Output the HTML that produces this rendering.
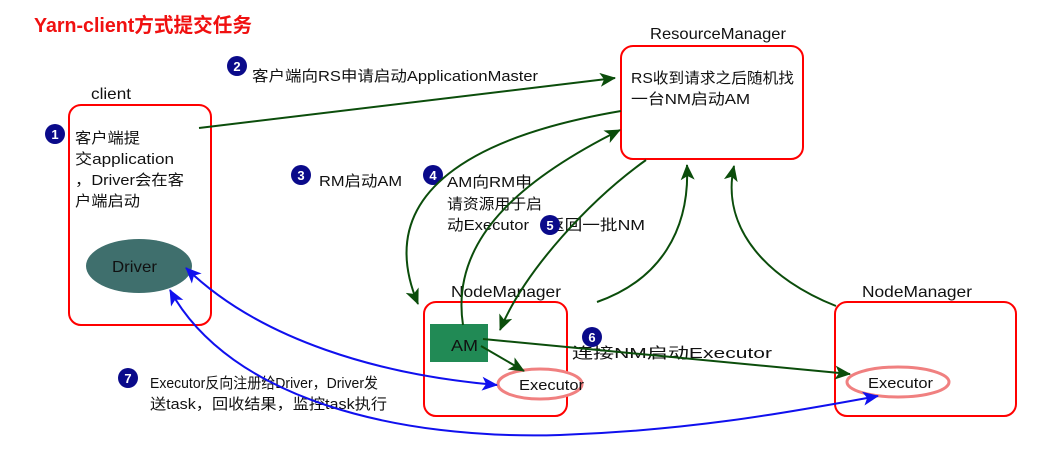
<!DOCTYPE html>
<html><head><meta charset="utf-8"><style>
html,body{margin:0;padding:0;background:#fff;}
svg{display:block;font-family:"Liberation Sans","Noto Sans CJK SC",sans-serif;}
</style></head><body>
<svg width="1043" height="453" viewBox="0 0 1043 453" xmlns="http://www.w3.org/2000/svg">
<defs>
<marker id="ga" markerWidth="16" markerHeight="16" refX="15" refY="8" orient="auto" markerUnits="userSpaceOnUse" viewBox="0 0 16 16"><path d="M0,1 L16,8 L0,15 L4,8 z" fill="#0b4d0b"/></marker>
<marker id="b" markerWidth="16" markerHeight="16" refX="15" refY="8" orient="auto-start-reverse" markerUnits="userSpaceOnUse" viewBox="0 0 16 16"><path d="M0,1 L16,8 L0,15 L4,8 z" fill="#1010ee"/></marker>
</defs>
<g lengthAdjust="spacingAndGlyphs">
<text x="34" y="32" font-size="20" font-weight="bold" fill="#f01010" textLength="218" lengthAdjust="spacingAndGlyphs">Yarn-client方式提交任务</text>

<text x="91" y="99" font-size="16" fill="#111" textLength="40" lengthAdjust="spacingAndGlyphs">client</text>
<rect x="69" y="105" width="142" height="220" rx="12" fill="none" stroke="#f00" stroke-width="2"/>
<circle cx="55" cy="134" r="10" fill="#0a0a8a"/><text x="55" y="139" font-size="13" font-weight="bold" fill="#fff" text-anchor="middle">1</text>
<g font-size="15" fill="#111">
<text x="75" y="143" textLength="65" lengthAdjust="spacingAndGlyphs">客户端提</text>
<text x="75" y="164" textLength="99" lengthAdjust="spacingAndGlyphs">交application</text>
<text x="75" y="185" textLength="109" lengthAdjust="spacingAndGlyphs">，Driver会在客</text>
<text x="75" y="206" textLength="65" lengthAdjust="spacingAndGlyphs">户端启动</text>
</g>
<ellipse cx="139" cy="266" rx="53" ry="27" fill="#3f6f6d"/>
<text x="112" y="272" font-size="16" fill="#111" textLength="45" lengthAdjust="spacingAndGlyphs">Driver</text>

<text x="650" y="39" font-size="16" fill="#111" textLength="136" lengthAdjust="spacingAndGlyphs">ResourceManager</text>
<rect x="621" y="46" width="182" height="113" rx="12" fill="none" stroke="#f00" stroke-width="2"/>
<text x="631" y="83" font-size="15" fill="#111" textLength="163" lengthAdjust="spacingAndGlyphs">RS收到请求之后随机找</text>
<text x="631" y="104" font-size="15" fill="#111" textLength="119" lengthAdjust="spacingAndGlyphs">一台NM启动AM</text>

<circle cx="237" cy="66" r="10" fill="#0a0a8a"/><text x="237" y="71" font-size="13" font-weight="bold" fill="#fff" text-anchor="middle">2</text>
<text x="252" y="81" font-size="15" fill="#111" textLength="286" lengthAdjust="spacingAndGlyphs">客户端向RS申请启动ApplicationMaster</text>
<circle cx="301" cy="175" r="10" fill="#0a0a8a"/><text x="301" y="180" font-size="13" font-weight="bold" fill="#fff" text-anchor="middle">3</text>
<text x="319" y="186" font-size="15" fill="#111" textLength="83" lengthAdjust="spacingAndGlyphs">RM启动AM</text>
<circle cx="433" cy="175" r="10" fill="#0a0a8a"/><text x="433" y="180" font-size="13" font-weight="bold" fill="#fff" text-anchor="middle">4</text>
<g font-size="15" fill="#111">
<text x="447" y="187" textLength="85" lengthAdjust="spacingAndGlyphs">AM向RM申</text>
<text x="447" y="209" textLength="95" lengthAdjust="spacingAndGlyphs">请资源用于启</text>
<text x="447" y="230" textLength="82" lengthAdjust="spacingAndGlyphs">动Executor</text>
</g>
<text x="547" y="230" font-size="15" fill="#111" textLength="98" lengthAdjust="spacingAndGlyphs">返回一批NM</text>
<circle cx="550" cy="225" r="10" fill="#0a0a8a"/><text x="550" y="230" font-size="13" font-weight="bold" fill="#fff" text-anchor="middle">5</text>

<text x="451" y="297" font-size="16" fill="#111" textLength="110" lengthAdjust="spacingAndGlyphs">NodeManager</text>
<rect x="424" y="302" width="143" height="114" rx="12" fill="none" stroke="#f00" stroke-width="2"/>
<rect x="430" y="324" width="58" height="38" fill="#218a55"/>
<text x="451" y="351" font-size="16" fill="#111" textLength="27" lengthAdjust="spacingAndGlyphs">AM</text>
<ellipse cx="540" cy="384" rx="42" ry="15" fill="#fff" stroke="#f08080" stroke-width="3"/>
<text x="519" y="390" font-size="15" fill="#111" textLength="65" lengthAdjust="spacingAndGlyphs">Executor</text>

<text x="862" y="297" font-size="16" fill="#111" textLength="110" lengthAdjust="spacingAndGlyphs">NodeManager</text>
<rect x="835" y="302" width="181" height="114" rx="12" fill="none" stroke="#f00" stroke-width="2"/>
<ellipse cx="898" cy="382" rx="51" ry="15" fill="#fff" stroke="#f08080" stroke-width="3"/>
<text x="868" y="388" font-size="15" fill="#111" textLength="65" lengthAdjust="spacingAndGlyphs">Executor</text>

<text x="572" y="358" font-size="15" fill="#111" textLength="200" lengthAdjust="spacingAndGlyphs">连接NM启动Executor</text>
<circle cx="592" cy="337" r="10" fill="#0a0a8a"/><text x="592" y="342" font-size="13" font-weight="bold" fill="#fff" text-anchor="middle">6</text>

<circle cx="128" cy="378" r="10" fill="#0a0a8a"/><text x="128" y="383" font-size="13" font-weight="bold" fill="#fff" text-anchor="middle">7</text>
<text x="150" y="388" font-size="15" fill="#111" textLength="228" lengthAdjust="spacingAndGlyphs">Executor反向注册给Driver，Driver发</text>
<text x="150" y="409" font-size="15" fill="#111" textLength="237" lengthAdjust="spacingAndGlyphs">送task，回收结果，监控task执行</text>
</g>

<g fill="none" stroke="#0b4d0b" stroke-width="2">
<path d="M199,128 L615,78" marker-end="url(#ga)"/>
<path d="M621,111 C480,135 370,190 418,304" marker-end="url(#ga)"/>
<path d="M463,325 C450,240 520,180 620,130" marker-end="url(#ga)"/>
<path d="M646,160 C590,200 525,270 500,330" marker-end="url(#ga)"/>
<path d="M597,302 C660,280 690,230 687,165" marker-end="url(#ga)"/>
<path d="M836,306 C770,280 720,230 734,166" marker-end="url(#ga)"/>
<path d="M481,346 L524,371" marker-end="url(#ga)"/>
<path d="M483,339 L850,374" marker-end="url(#ga)"/>
</g>
<g fill="none" stroke="#1010ee" stroke-width="2">
<path d="M186,268 C260,340 380,375 497,385" marker-start="url(#b)" marker-end="url(#b)"/>
<path d="M170,290 C230,400 400,440 560,435 C700,430 800,410 878,396" marker-start="url(#b)" marker-end="url(#b)"/>
</g>
</svg>
</body></html>
